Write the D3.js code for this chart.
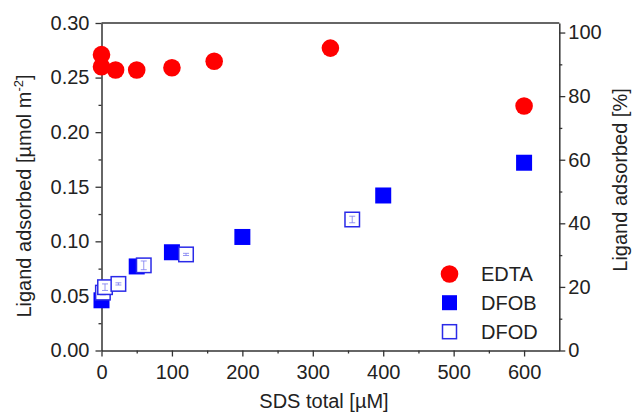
<!DOCTYPE html>
<html><head><meta charset="utf-8">
<script src="https://cdn.jsdelivr.net/npm/d3@7"></script>
<style>body{margin:0;background:#fff}svg{display:block}text{font-family:"Liberation Sans",Arial,sans-serif;fill:#222}</style>
</head><body><svg id="c" width="632" height="413"></svg>
<script>
const edtaX = [0, 0, 20, 50, 100, 160, 325, 600];
const edtaY = [0.271, 0.260, 0.257, 0.257, 0.259, 0.265, 0.277, 0.224];
const dfobX = [0, 50, 100, 200, 400, 600];
const dfobY = [0.046, 0.077, 0.090, 0.104, 0.142, 0.172];
const dfodX = [2, 5, 24, 60, 120, 356];
const dfodY = [0.053, 0.058, 0.061, 0.078, 0.088, 0.120];
const dfodErr = [0.002, 0.003, 0.001, 0.004, 0.001, 0.003];
const xTicks = [0, 100, 200, 300, 400, 500, 600];
const yTicks = [0.00, 0.05, 0.10, 0.15, 0.20, 0.25, 0.30];
const y2Ticks = [0, 20, 40, 60, 80, 100];
const legendNames = ["EDTA", "DFOB", "DFOD"];

const svg = d3.select("#c");
const L = 101.5, R = 559.3, T = 23, B = 350.5;
const x = d3.scaleLinear().domain([0, 650]).range([L, R]);
const y = d3.scaleLinear().domain([0, 0.30]).range([B, T]);
const y2 = d3.scaleLinear().domain([0, 103]).range([B, T]);
const axCol = "#333";
const FS = "20px";

function style(g, minor) {
  g.select(".domain").attr("stroke", axCol).attr("stroke-width", 1.5);
  g.selectAll(".tick line").attr("stroke", axCol).attr("stroke-width", 1.3);
  g.selectAll(".tick text").style("font-size", FS).attr("fill", "#222");
  if (minor) { g.select(".domain").remove(); g.selectAll("text").remove(); }
}
// minor ticks
svg.append("g").attr("transform", `translate(0,${B})`)
  .call(d3.axisBottom(x).tickValues(d3.range(50, 650, 100)).tickSize(3).tickFormat("")).call(style, true);
svg.append("g").attr("transform", `translate(${L},0)`)
  .call(d3.axisLeft(y).tickValues(d3.range(0.025, 0.3, 0.05)).tickSize(3).tickFormat("")).call(style, true);
svg.append("g").attr("transform", `translate(${R},0)`)
  .call(d3.axisRight(y2).tickValues(d3.range(10, 100, 20)).tickSize(3).tickFormat("")).call(style, true);
// major
svg.append("g").attr("transform", `translate(0,${B})`)
  .call(d3.axisBottom(x).tickValues(xTicks).tickSize(6).tickSizeOuter(0).tickPadding(8).tickFormat(d3.format("d"))).call(style, false);
svg.append("g").attr("transform", `translate(${L},0)`)
  .call(d3.axisLeft(y).tickValues(yTicks).tickSize(6).tickSizeOuter(0).tickPadding(6).tickFormat(d3.format(".2f"))).call(style, false);
svg.append("g").attr("transform", `translate(${R},0)`)
  .call(d3.axisRight(y2).tickValues(y2Ticks).tickSize(6).tickSizeOuter(0).tickPadding(3).tickFormat(d3.format("d"))).call(style, false);
svg.append("line").attr("x1", L).attr("x2", R).attr("y1", T).attr("y2", T).attr("stroke", axCol).attr("stroke-width", 1.5);

// titles
svg.append("text").attr("x", 324).attr("y", 408).attr("text-anchor", "middle").style("font-size", FS).text("SDS total [µM]");
const lt = svg.append("text").attr("transform", `translate(31,196) rotate(-90)`).attr("text-anchor", "middle").style("font-size", FS);
lt.append("tspan").text("Ligand adsorbed [µmol m");
lt.append("tspan").attr("dy", -8).style("font-size", "13px").text("-2");
lt.append("tspan").attr("dy", 8).text("]");
svg.append("text").attr("transform", `translate(627,180) rotate(-90)`).attr("text-anchor", "middle").style("font-size", FS).text("Ligand adsorbed [%]");

const S = 16;
// DFOB filled
svg.append("g").selectAll("rect").data(dfobX).join("rect")
  .attr("x", (d) => x(d) - S / 2).attr("y", (d, i) => y(dfobY[i]) - S / 2)
  .attr("width", S).attr("height", S).attr("fill", "#0000ff");
// DFOD open
const od = svg.append("g").selectAll("g").data(dfodX).join("g");
od.append("rect").attr("x", (d) => x(d) - S / 2 + 0.75).attr("y", (d, i) => y(dfodY[i]) - S / 2 + 0.75)
  .attr("width", S - 1.5).attr("height", S - 1.5).attr("fill", "#fff").attr("stroke", "#2a2ae8").attr("stroke-width", 1.5);
od.append("path").attr("d", (d, i) => {
  const cx = x(d), y0 = y(dfodY[i] - dfodErr[i]), y1 = y(dfodY[i] + dfodErr[i]);
  return `M${cx},${y0}V${y1}M${cx - 3},${y0}H${cx + 3}M${cx - 3},${y1}H${cx + 3}`;
}).attr("stroke", "#7a7af0").attr("stroke-width", 0.8).attr("fill", "none");
// EDTA circles
svg.append("g").selectAll("circle").data(edtaX).join("circle")
  .attr("cx", (d) => x(d)).attr("cy", (d, i) => y(edtaY[i])).attr("r", 8.8).attr("fill", "#ff0000");

// legend
const lx = 449.5, ly = [274, 302.7, 331.7];
const lg = svg.append("g");
lg.append("circle").attr("cx", lx).attr("cy", ly[0]).attr("r", 8.8).attr("fill", "#ff0000");
lg.append("rect").attr("x", lx - 7.5).attr("y", ly[1] - 7.5).attr("width", 15).attr("height", 15).attr("fill", "#0000ff");
lg.append("rect").attr("x", lx - 7).attr("y", ly[2] - 7).attr("width", 14).attr("height", 14).attr("fill", "#fff").attr("stroke", "#2a2ae8").attr("stroke-width", 1.5);
lg.selectAll("text").data(legendNames).join("text").attr("x", 481).attr("y", (d, i) => ly[i] + 7)
  .style("font-size", FS).text((d) => d);
</script></body></html>
